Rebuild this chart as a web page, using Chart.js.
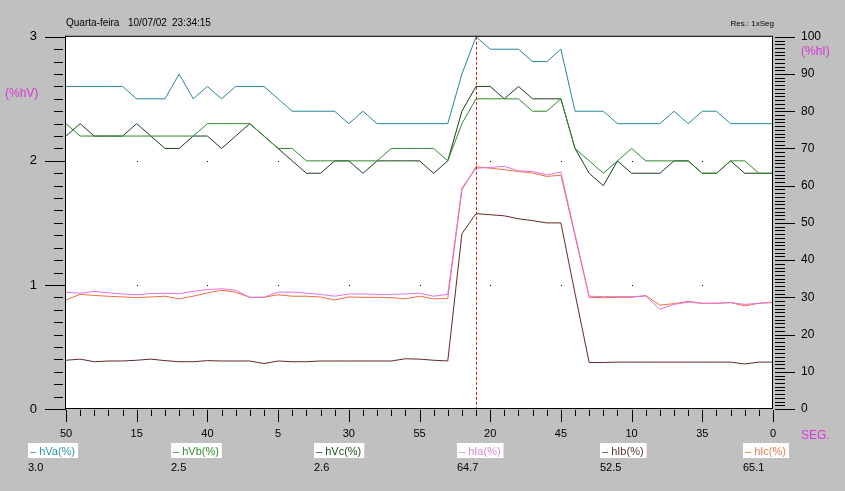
<!DOCTYPE html>
<html>
<head>
<meta charset="utf-8">
<script src="https://cdn.jsdelivr.net/npm/chart.js@4/dist/chart.umd.min.js"></script>
<style>
  html, body { margin: 0; padding: 0; background: #c0c0c0; }
  #wrap { width: 845px; height: 491px; }
</style>
</head>
<body>
<div id="wrap"><canvas id="chart" width="845" height="491"></canvas></div>
<script>
// Data (one sample per minor tick, cursor at index 29)
const tickLabels = ['50', '15', '40', '5', '30', '55', '20', '45', '10', '35', '0'];
const cursorIndex = 29;

const hVa = [2.6, 2.6, 2.6, 2.6, 2.6, 2.5, 2.5, 2.5, 2.7, 2.5, 2.6, 2.5, 2.6, 2.6, 2.6, 2.5, 2.4, 2.4, 2.4, 2.4,
  2.3, 2.4, 2.3, 2.3, 2.3, 2.3, 2.3, 2.3, 2.7, 3.0, 2.9, 2.9, 2.9, 2.8, 2.8, 2.9, 2.4, 2.4, 2.4, 2.3,
  2.3, 2.3, 2.3, 2.4, 2.3, 2.4, 2.4, 2.3, 2.3, 2.3, 2.3];
const hVb = [2.3, 2.2, 2.2, 2.2, 2.2, 2.2, 2.2, 2.2, 2.2, 2.2, 2.3, 2.3, 2.3, 2.3, 2.2, 2.1, 2.1, 2.0, 2.0, 2.0,
  2.0, 2.0, 2.0, 2.1, 2.1, 2.1, 2.1, 2.0, 2.3, 2.5, 2.5, 2.5, 2.5, 2.4, 2.4, 2.5, 2.1, 2.0, 1.9, 2.0,
  2.1, 2.0, 2.0, 2.0, 2.0, 1.9, 1.9, 2.0, 2.0, 1.9, 1.9];
const hVc = [2.2, 2.3, 2.2, 2.2, 2.2, 2.3, 2.2, 2.1, 2.1, 2.2, 2.2, 2.1, 2.2, 2.3, 2.2, 2.1, 2.0, 1.9, 1.9, 2.0,
  2.0, 1.9, 2.0, 2.0, 2.0, 2.0, 1.9, 2.0, 2.4, 2.6, 2.6, 2.5, 2.6, 2.5, 2.5, 2.5, 2.1, 1.9, 1.8, 2.0,
  1.9, 1.9, 1.9, 2.0, 2.0, 1.9, 1.9, 2.0, 1.9, 1.9, 1.9];
const hIa = [31.4, 31.1, 31.6, 31.2, 30.9, 30.7, 31.0, 31.1, 31.0, 31.6, 32.1, 32.3, 31.9, 30.0, 30.0, 31.4, 31.4, 31.1, 30.8, 30.3,
  30.9, 30.9, 30.8, 30.8, 30.9, 31.1, 30.3, 30.8, 59.4, 64.7, 64.9, 65.2, 64.0, 63.8, 62.9, 63.7, 47.0, 30.3, 30.2, 30.2,
  30.2, 30.3, 26.8, 28.1, 28.7, 28.4, 28.4, 28.6, 28.1, 28.4, 28.8];
const hIb = [13.1, 13.4, 12.7, 12.9, 12.9, 13.1, 13.4, 13.0, 12.7, 12.7, 13.0, 12.9, 12.9, 12.9, 12.2, 12.9, 12.7, 12.7, 12.9, 12.9,
  12.9, 12.9, 12.9, 12.9, 13.5, 13.4, 13.1, 12.9, 47.1, 52.5, 52.2, 51.9, 51.1, 50.6, 50.0, 50.0, 31.0, 12.5, 12.5, 12.6,
  12.6, 12.6, 12.6, 12.6, 12.6, 12.6, 12.6, 12.6, 12.1, 12.6, 12.6];
const hIc = [29.3, 30.8, 30.5, 30.3, 30.1, 29.9, 30.1, 30.3, 29.6, 30.3, 31.2, 31.9, 31.4, 30.0, 30.0, 30.7, 30.3, 30.3, 30.1, 29.3,
  30.1, 30.0, 30.0, 29.9, 29.6, 30.3, 29.6, 29.7, 58.9, 65.1, 64.7, 64.3, 63.8, 63.4, 62.5, 62.8, 46.5, 30.0, 29.9, 30.0,
  30.0, 30.5, 27.9, 28.3, 28.9, 28.4, 28.4, 28.6, 27.7, 28.4, 28.6];

const seriesNames = ['hVa(%)', 'hVb(%)', 'hVc(%)', 'hIa(%)', 'hIb(%)', 'hIc(%)'];
const seriesData = [hVa, hVb, hVc, hIa, hIb, hIc];
const seriesAxis = ['y', 'y', 'y', 'y1', 'y1', 'y1'];
const lineColors = ['#23879a', '#2e8b2e', '#163f16', '#e472e4', '#642828', '#f0703c'];
const legendColors = ['#2a96a6', '#2f8f2f', '#1d4d1d', '#d88ad8', '#5e3434', '#e87c52'];

const labels = hVa.map((_, i) => (i % 5 === 0 ? tickLabels[i / 5] : ''));
const FONT = '"Liberation Sans", Arial, sans-serif';
const MAGENTA = '#d636d6';

const decorations = {
  id: 'decorations',
  beforeDraw(chart) {
    const { ctx, chartArea: a } = chart;
    ctx.save();
    ctx.fillStyle = '#c0c0c0';
    ctx.fillRect(0, 0, chart.width, chart.height);
    ctx.fillStyle = '#ffffff';
    ctx.fillRect(a.left, a.top, a.right - a.left, a.bottom - a.top);
    ctx.restore();
  },
  beforeDatasetsDraw(chart) {
    // dotted grid at major intersections
    const { ctx, scales: { x, y } } = chart;
    ctx.save();
    ctx.fillStyle = '#000';
    for (let i = 5; i < labels.length - 1; i += 5) {
      [1, 2].forEach(v => {
        ctx.fillRect(Math.round(x.getPixelForValue(i)), Math.round(y.getPixelForValue(v)), 1, 1);
      });
    }
    ctx.restore();
  },
  afterDatasetsDraw(chart) {
    const { ctx, chartArea: a, scales: { x } } = chart;
    const cx = Math.round(x.getPixelForValue(cursorIndex)) + 0.5;
    ctx.save();
    ctx.strokeStyle = '#d01818';
    ctx.lineWidth = 1;
    ctx.setLineDash([3, 2]);
    ctx.beginPath();
    ctx.moveTo(cx, a.top);
    ctx.lineTo(cx, a.bottom);
    ctx.stroke();
    ctx.restore();
  },
  afterDraw(chart) {
    const { ctx, chartArea: a, scales: { x, y, y1 } } = chart;
    ctx.save();
    // frame
    ctx.strokeStyle = '#000';
    ctx.lineWidth = 1;
    ctx.strokeRect(a.left - 0.5, a.top - 0.5, a.right - a.left, a.bottom - a.top);

    ctx.strokeStyle = '#000';
    ctx.beginPath();
    // left axis ticks
    for (let k = 0; k <= 30; k++) {
      const py = Math.round(y.getPixelForValue(k / 10)) + 0.5;
      if (k % 10 === 0) { ctx.moveTo(a.left - 21, py); ctx.lineTo(a.left, py); }
      else { ctx.moveTo(a.left - 12, py); ctx.lineTo(a.left - 3, py); }
    }
    // right axis ticks
    for (let k = 0; k <= 100; k++) {
      const py = Math.round(y1.getPixelForValue(k)) + 0.5;
      if (k % 10 === 0) { ctx.moveTo(a.right + 2, py); ctx.lineTo(a.right + 22, py); }
      else { ctx.moveTo(a.right + 2, py); ctx.lineTo(a.right + 12, py); }
    }
    // bottom ticks
    for (let i = 0; i < labels.length; i++) {
      const px = Math.round(x.getPixelForValue(i)) + 0.5;
      ctx.moveTo(px, a.bottom + 1);
      ctx.lineTo(px, a.bottom + (i % 5 === 0 ? 13 : 7));
    }
    ctx.stroke();

    // texts
    ctx.fillStyle = '#000';
    ctx.textBaseline = 'alphabetic';
    ctx.font = '10px ' + FONT;
    ctx.textAlign = 'left';
    ctx.fillText('Quarta-feira', 66, 26);
    ctx.fillText('10/07/02', 128, 26);
    ctx.fillText('23:34:15', 172, 26);
    ctx.font = '8px ' + FONT;
    ctx.textAlign = 'right';
    ctx.fillText('Res.: 1xSeg', 774, 26);

    ctx.font = '12px ' + FONT;
    ctx.fillStyle = MAGENTA;
    ctx.textAlign = 'left';
    ctx.fillText('(%hV)', 5, 97);
    ctx.fillText('(%hI)', 801, 55);
    ctx.fillText('SEG.', 801, 439);

    // legend with cursor readout
    ctx.font = '11px ' + FONT;
    seriesNames.forEach((name, k) => {
      const lx = 28 + k * 143;
      const txt = '\u2013 ' + name;
      const w = ctx.measureText(txt).width;
      ctx.fillStyle = '#ffffff';
      ctx.fillRect(lx, 443, w + 5, 15);
      ctx.fillStyle = legendColors[k];
      ctx.fillText(txt, lx + 2, 455);
      ctx.fillStyle = '#000';
      ctx.fillText(seriesData[k][cursorIndex].toFixed(1), lx, 471);
    });
    ctx.restore();
  }
};

new Chart(document.getElementById('chart').getContext('2d'), {
  type: 'line',
  data: {
    labels: labels,
    datasets: seriesData.map((d, k) => ({
      label: seriesNames[k],
      data: d,
      yAxisID: seriesAxis[k],
      borderColor: lineColors[k],
      borderWidth: 1,
      pointRadius: 0,
      tension: 0,
      fill: false,
      clip: 2
    }))
  },
  options: {
    responsive: false,
    animation: false,
    layout: { padding: { top: 30, left: 0, right: 0, bottom: 0 } },
    plugins: {
      legend: { display: false },
      tooltip: { enabled: false }
    },
    scales: {
      x: {
        type: 'category',
        offset: false,
        grid: { display: false, drawTicks: false },
        border: { display: false },
        ticks: {
          autoSkip: false,
          maxRotation: 0,
          padding: 18,
          color: '#000',
          font: { size: 11, family: FONT }
        },
        afterFit: s => { s.height = 82; }
      },
      y: {
        position: 'left',
        min: 0,
        max: 3,
        grid: { display: false, drawTicks: false },
        border: { display: false },
        ticks: {
          stepSize: 1,
          padding: 29,
          color: '#000',
          font: { size: 13, family: FONT }
        },
        afterFit: s => { s.width = 66; }
      },
      y1: {
        position: 'right',
        min: 0,
        max: 100,
        grid: { display: false, drawTicks: false },
        border: { display: false },
        ticks: {
          stepSize: 10,
          padding: 28,
          color: '#000',
          font: { size: 12, family: FONT }
        },
        afterFit: s => { s.width = 72; }
      }
    }
  },
  plugins: [decorations]
});
</script>
</body>
</html>
